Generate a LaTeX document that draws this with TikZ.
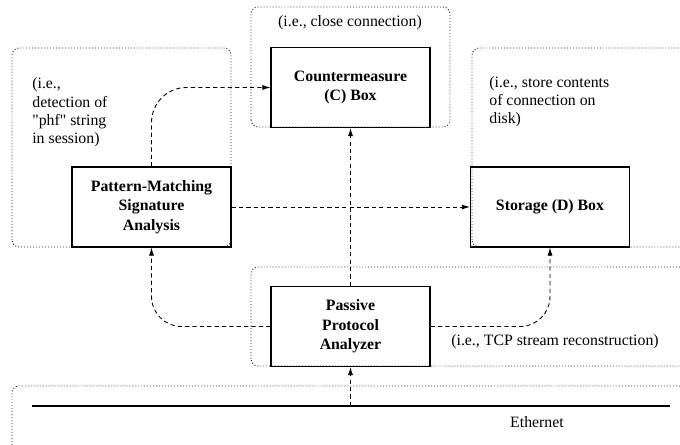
\documentclass[tikz,border=0pt]{standalone}
\usepackage{fontspec}
\setmainfont{Liberation Serif}
\usepackage{tikz}
\usetikzlibrary{arrows.meta, positioning, calc}
\definecolor{regiongray}{RGB}{40, 40, 40}

\begin{document}
\begin{tikzpicture}[
    unitbox/.style={draw, line width=0.6pt, minimum width=3.18cm, minimum height=1.6cm, align=center, inner sep=2pt, font=\fontsize{9}{11}\selectfont\bfseries},
    region/.style={draw=regiongray, line width=0.55pt, dash pattern=on 0.55pt off 1.15pt, rounded corners=4pt},
    note/.style={align=left, inner sep=0pt, font=\fontsize{9}{10.4}\selectfont},
    flow/.style={line width=0.5pt, dash pattern=on 2.4pt off 1.8pt, -{Latex[length=1.6mm, width=1mm]}}
  ]
  \useasboundingbox (0,0) rectangle (13.6,8.9);

  % Dotted regions round each box
  \draw[region] (5.02,6.36) rectangle (9.0,8.76);
  \draw[region] (0.24,3.96) rectangle (4.62,7.94);
  \draw[region] (9.44,3.96) rectangle (14.0,7.94);
  \draw[region] (5.02,1.58) rectangle (14.0,3.56);
  \draw[region] (0.24,-0.5) rectangle (14.0,1.18);

  % Boxes
  \node[unitbox] (cm) at (7.01,7.15) {Countermeasure\\(C) Box};
  \node[unitbox] (pm) at (3.03,4.76) {Pattern-Matching\\Signature\\Analysis};
  \node[unitbox] (sd) at (11.0,4.76) {Storage (D) Box};
  \node[unitbox] (ppa) at (7.01,2.37) {Passive\\Protocol\\Analyzer};

  % Notes
  \node[note] (cmnote) at (7.0,8.44) {(i.e., close connection)};
  \node[note, anchor=west] (pmnote) at (0.64,6.65) {(i.e.,\\detection of\\\textquotedbl phf\textquotedbl{} string\\in session)};
  \node[note, anchor=west] (sdnote) at (9.78,6.87) {(i.e., store contents\\of connection on\\disk)};
  \node[note] (ppanote) at (11.1,2.06) {(i.e., TCP stream reconstruction)};

  % Ethernet
  \coordinate (ethL) at (0.64,0.78);
  \coordinate (ethR) at (13.4,0.78);
  \draw[line width=1.3pt] (ethL) -- (ethR);
  \node[note] (ethlabel) at (10.74,0.46) {Ethernet};

  % Data flow
  \draw[flow] (ppa.south |- ethL) -- (ppa.south);
  \draw[flow] (ppa.north) -- (cm.south);
  \draw[flow] (pm.east) -- (sd.west);
  \draw[flow, rounded corners=0.7cm] (pm.north) |- (cm.west);
  \draw[flow, rounded corners=0.6cm] (ppa.west) -| (pm.south);
  \draw[flow, rounded corners=0.6cm] (ppa.east) -| (sd.south);
\end{tikzpicture}
\end{document}
